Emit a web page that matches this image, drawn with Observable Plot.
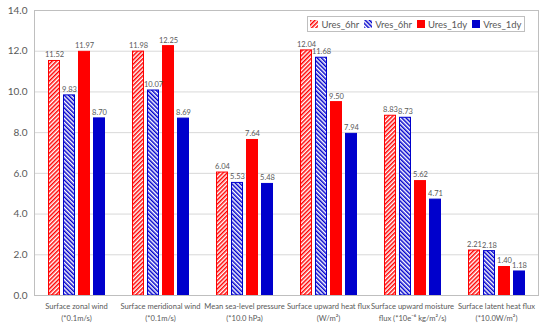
<!DOCTYPE html>
<html>
<head>
<meta charset="utf-8">
<script src="https://cdn.jsdelivr.net/npm/d3@7"></script>
<script src="https://cdn.jsdelivr.net/npm/@observablehq/plot@0.6"></script>
<style>
  html, body { margin: 0; padding: 0; background: #fff; }
  #wrap { position: relative; width: 550px; height: 323px; font-family: Lato, "Open Sans", sans-serif; }
  #legend { position: absolute; left: 307px; top: 16px; width: 218px; height: 16px; border: 1px solid #bfbfbf; background: #fff;
            display: flex; align-items: center; justify-content: space-around; font-size: 9.5px; color: #595959; box-sizing: border-box; }
  #legend .item { display: flex; align-items: center; gap: 3px; }
</style>
</head>
<body>
<div id="wrap"><div id="legend"></div></div>
<script>
const categories = [
  "Surface zonal wind",
  "Surface meridional wind",
  "Mean sea-level pressure",
  "Surface upward heat flux",
  "Surface upward moisture",
  "Surface latent heat flux"
];
const units = [
  "(*0.1m/s)",
  "(*0.1m/s)",
  "(*10.0 hPa)",
  "(W/m²)",
  "flux (*10e⁻⁶ kg/m²/s)",
  "(*10.0W/m²)"
];
const seriesNames = ["Ures_6hr", "Vres_6hr", "Ures_1dy", "Vres_1dy"];
const Ures_6hr = [11.52, 11.98, 6.04, 12.04, 8.83, 2.21];
const Vres_6hr = [9.83, 10.07, 5.53, 11.68, 8.73, 2.18];
const Ures_1dy = [11.97, 12.25, 7.64, 9.50, 5.62, 1.40];
const Vres_1dy = [8.70, 8.69, 5.48, 7.94, 4.71, 1.18];
const yTicks = [0, 2, 4, 6, 8, 10, 12, 14];

const RED = "#ff0000", BLUE = "#0000cc";
const fills = ["url(#hatchRed)", "url(#hatchBlue)", RED, BLUE];
const strokes = [RED, BLUE, RED, BLUE];

const seriesValues = [Ures_6hr, Vres_6hr, Ures_1dy, Vres_1dy];
const data = [];
categories.forEach((c, i) => {
  seriesNames.forEach((s, j) => data.push({category: c, series: s, value: seriesValues[j][i]}));
});

const unitOf = new Map(categories.map((c, i) => [c, units[i]]));

const chart = Plot.plot({
  width: 550,
  height: 323,
  marginLeft: 32,
  marginRight: 10,
  marginTop: 10,
  marginBottom: 28,
  style: {fontFamily: "Lato, 'Open Sans', sans-serif", background: "#fff"},
  fx: {domain: categories, padding: 0, label: null},
  x: {domain: seriesNames, paddingInner: 0.2, paddingOuter: 0.85, axis: null},
  y: {domain: [0, 14], label: null},
  color: {domain: seriesNames, range: fills},
  marks: [
    Plot.gridY(yTicks.filter(d => d > 0 && d < 14), {stroke: "#d9d9d9", strokeOpacity: 1}),
    Plot.barY(data, {fx: "category", x: "series", y: "value", fill: "series",
      stroke: d => strokes[seriesNames.indexOf(d.series)], strokeWidth: 1, insetLeft: 0.5, insetRight: 0.5}),
    Plot.text(data, {fx: "category", x: "series", y: "value", text: d => d.value.toFixed(2),
      dy: -6, fontSize: 7.5, fill: "#595959"}),
    Plot.frame({stroke: "#bfbfbf", facet: "super"}),
    Plot.axisY({ticks: yTicks, tickFormat: d => d.toFixed(1), tickSize: 0, tickPadding: 7,
      fontSize: 10, fill: "#595959", label: null}),
    Plot.axisFx({anchor: "bottom", tickSize: 0, tickPadding: 5, fontSize: 7.6, fill: "#595959", lineHeight: 1.55,
      tickFormat: d => d + "\n" + unitOf.get(d), label: null})
  ]
});

function addPatterns(svgSel) {
  const defs = svgSel.insert("defs", ":first-child");
  const mk = (id, color, angle) => {
    const p = defs.append("pattern").attr("id", id).attr("patternUnits", "userSpaceOnUse")
      .attr("width", 3).attr("height", 3).attr("patternTransform", `rotate(${angle})`);
    p.append("rect").attr("width", 3).attr("height", 3).attr("fill", "#fff");
    p.append("line").attr("x1", 0.75).attr("y1", 0).attr("x2", 0.75).attr("y2", 3)
      .attr("stroke", color).attr("stroke-width", 1.5);
  };
  mk("hatchRed", RED, 45);
  mk("hatchBlue", BLUE, -45);
}
addPatterns(d3.select(chart));

const wrap = document.getElementById("wrap");
wrap.insertBefore(chart, wrap.firstChild);

const legend = d3.select("#legend");
seriesNames.forEach((s, j) => {
  const item = legend.append("div").attr("class", "item");
  const sw = item.append("svg").attr("width", 8).attr("height", 8);
  sw.append("rect").attr("width", 8).attr("height", 8).attr("fill", fills[j]);
  item.append("span").text(s);
});
</script>
</body>
</html>
